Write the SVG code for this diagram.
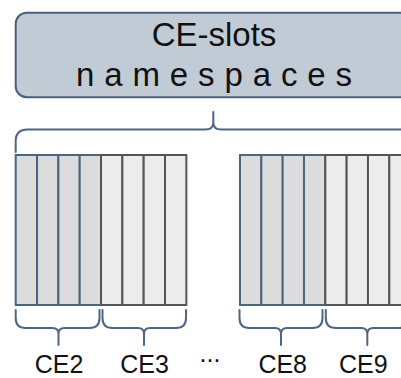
<svg xmlns="http://www.w3.org/2000/svg" width="401" height="378" viewBox="0 0 401 378">
  <style>
    .box { fill: #c1cbd6; stroke: #4a6079; stroke-width: 2; }
    .title { font-family: "Liberation Sans", Arial, sans-serif; fill: #111; }
    .blue { fill: #dcdcdc; stroke: #4a6580; stroke-width: 2; }
    .grey { fill: #ececec; stroke: #555; stroke-width: 2; }
    .brace { fill: none; stroke: #4b6686; stroke-width: 2; stroke-linecap: round; stroke-linejoin: round; }
    .label { font-family: "Liberation Sans", Arial, sans-serif; font-size: 25px; fill: #111; text-anchor: middle; }
  </style>

  <!-- namespace header -->
  <g id="ce-slots">
    <rect class="box" x="15.7" y="12.7" width="420" height="84.5" rx="11"/>
    <text class="title" x="214" y="46" font-size="33" text-anchor="middle">CE-slots</text>
    <text class="title" x="214" y="86" font-size="33" text-anchor="middle" textLength="276" lengthAdjust="spacing">namespaces</text>
  </g>

  <!-- slot columns -->
  <g id="ce2">
    <rect class="blue" x="15.7" y="155" width="21.33" height="150"/>
    <rect class="blue" x="37.03" y="155" width="21.33" height="150"/>
    <rect class="blue" x="58.36" y="155" width="21.33" height="150"/>
    <rect class="blue" x="79.69" y="155" width="21.33" height="150"/>
    <text class="label" x="59" y="372.5">CE2</text>
  </g>
  <g id="ce3">
    <rect class="grey" x="101.02" y="155" width="21.33" height="150"/>
    <rect class="grey" x="122.35" y="155" width="21.33" height="150"/>
    <rect class="grey" x="143.68" y="155" width="21.33" height="150"/>
    <rect class="grey" x="165.01" y="155" width="21.33" height="150"/>
    <text class="label" x="144.5" y="372.5">CE3</text>
  </g>
  <g id="ellipsis">
    <text class="label" x="210" y="362" font-size="22">...</text>
  </g>
  <g id="ce8">
    <rect class="blue" x="240" y="155" width="21.33" height="150"/>
    <rect class="blue" x="261.33" y="155" width="21.33" height="150"/>
    <rect class="blue" x="282.66" y="155" width="21.33" height="150"/>
    <rect class="blue" x="303.99" y="155" width="21.33" height="150"/>
    <text class="label" x="282.7" y="372.5">CE8</text>
  </g>
  <g id="ce9">
    <rect class="grey" x="325.32" y="155" width="21.33" height="150"/>
    <rect class="grey" x="346.65" y="155" width="21.33" height="150"/>
    <rect class="grey" x="367.98" y="155" width="21.33" height="150"/>
    <rect class="grey" x="389.31" y="155" width="21.33" height="150"/>
    <text class="label" x="363.3" y="372.5">CE9</text>
  </g>

  <!-- braces -->
  <g id="connectors">
    <path class="brace" d="M15.7 152 V141 Q15.7 129.5 27.7 129.5 H205 Q213.3 129.5 213.3 123 V112 M213.3 123 Q213.3 129.5 221.6 129.5 H399 Q411 129.5 411 141 V152"/>
    <path class="brace" d="M15.7 310 V318 Q15.7 328 25.7 328 H52.5 Q58.5 328 58.5 334 V345 M58.5 334 Q58.5 328 64.5 328 H89.5 Q99.5 328 99.5 318 V310"/>
    <path class="brace" d="M102.5 310 V318 Q102.5 328 112.5 328 H138 Q144 328 144 334 V345 M144 334 Q144 328 150 328 H176 Q186 328 186 318 V310"/>
    <path class="brace" d="M239.5 310 V318 Q239.5 328 249.5 328 H275 Q281 328 281 334 V345 M281 334 Q281 328 287 328 H312.5 Q322.5 328 322.5 318 V310"/>
    <path class="brace" d="M325.8 310 V318 Q325.8 328 335.8 328 H361.3 Q367.3 328 367.3 334 V345 M367.3 334 Q367.3 328 373.3 328 H398.8 Q408.8 328 408.8 318 V310"/>
  </g>
</svg>
